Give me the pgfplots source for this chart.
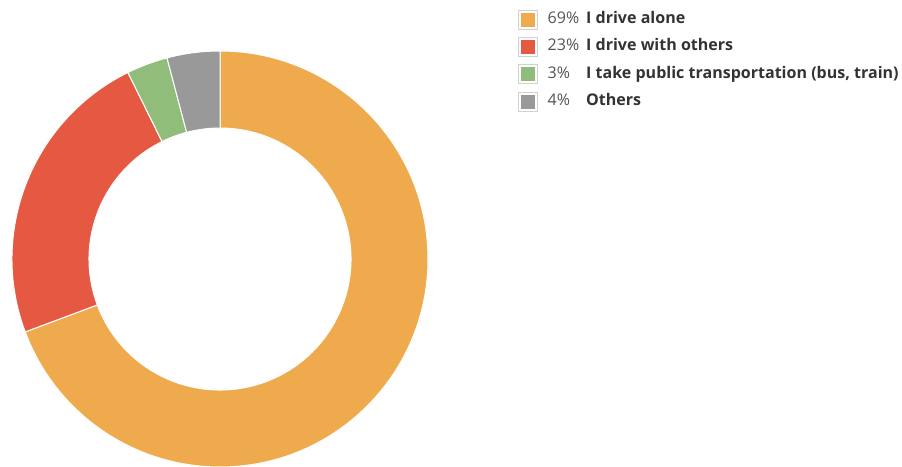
\documentclass[border=0pt]{standalone}
\usepackage{pgfplots}
\pgfplotsset{compat=1.18}
\usepackage{pgfplotstable}
\usepackage{fontspec}
\setmainfont{Open Sans}

\definecolor{cOrange}{HTML}{F0AA4E}
\definecolor{cRed}{HTML}{E55842}
\definecolor{cGreen}{HTML}{91BD7A}
\definecolor{cGray}{HTML}{999999}
\definecolor{pctgray}{HTML}{555555}
\definecolor{labgray}{HTML}{333333}

% slice sizes (percent) as read off the ring, legend values as printed
\pgfplotstableread[col sep=comma]{
pct,label,val,col
69\%,I drive alone,69.3,cOrange
23\%,I drive with others,23.4,cRed
3\%,{I take public transportation (bus, train)},3.2,cGreen
4\%,Others,4.1,cGray
}\datatable

% cumulative angles, clockwise from the top
\def\curang{90}
\foreach \i in {0,...,3}{%
  \pgfplotstablegetelem{\i}{val}\of\datatable
  \pgfmathsetmacro\endang{\curang-3.6*\pgfplotsretval}%
  \expandafter\xdef\csname sA\i\endcsname{\curang}%
  \expandafter\xdef\csname eA\i\endcsname{\endang}%
  \global\let\curang\endang
  \pgfplotstablegetelem{\i}{col}\of\datatable
  \expandafter\xdef\csname cl\i\endcsname{\pgfplotsretval}%
  \pgfplotstablegetelem{\i}{pct}\of\datatable
  \expandafter\xdef\csname pc\i\endcsname{\pgfplotsretval}%
  \pgfplotstablegetelem{\i}{label}\of\datatable
  \expandafter\xdef\csname lb\i\endcsname{\pgfplotsretval}%
}

\begin{document}
\begin{tikzpicture}
\begin{axis}[
  hide axis,
  scale only axis,
  x=1bp, y=1bp,
  xmin=0, xmax=902,
  ymin=0, ymax=467,
  clip=false,
  anchor=origin, at={(0,0)},
]
\pgfplotsinvokeforeach{0,...,3}{
  \fill[\csname cl#1\endcsname, draw=white, line width=1bp]
    (axis cs:220,208) ++(\csname sA#1\endcsname:208bp)
    arc[start angle=\csname sA#1\endcsname, end angle=\csname eA#1\endcsname, radius=208bp]
    -- ++(\csname eA#1\endcsname+180:77bp)
    arc[start angle=\csname eA#1\endcsname, end angle=\csname sA#1\endcsname, radius=131bp]
    -- cycle;
  \draw[draw=black!18, fill=white, line width=1bp]
    (axis cs:518.5,{447-27.2*#1-9.5}) rectangle ++(19bp,19bp);
  \fill[\csname cl#1\endcsname]
    (axis cs:521,{447-27.2*#1-7}) rectangle ++(14bp,14bp);
  \node[anchor=west, inner sep=0pt, text=pctgray, font=\fontsize{16.1}{19}\selectfont]
    at (axis cs:547.5,{447-27.2*#1}) {\strut\csname pc#1\endcsname};
  \node[anchor=west, inner sep=0pt, text=labgray, font=\fontsize{16.1}{19}\selectfont\bfseries]
    at (axis cs:586,{447-27.2*#1}) {\strut\csname lb#1\endcsname};
}
\end{axis}
\pgfresetboundingbox
\useasboundingbox (0,0) rectangle (902bp,467bp);
\end{tikzpicture}
\end{document}
